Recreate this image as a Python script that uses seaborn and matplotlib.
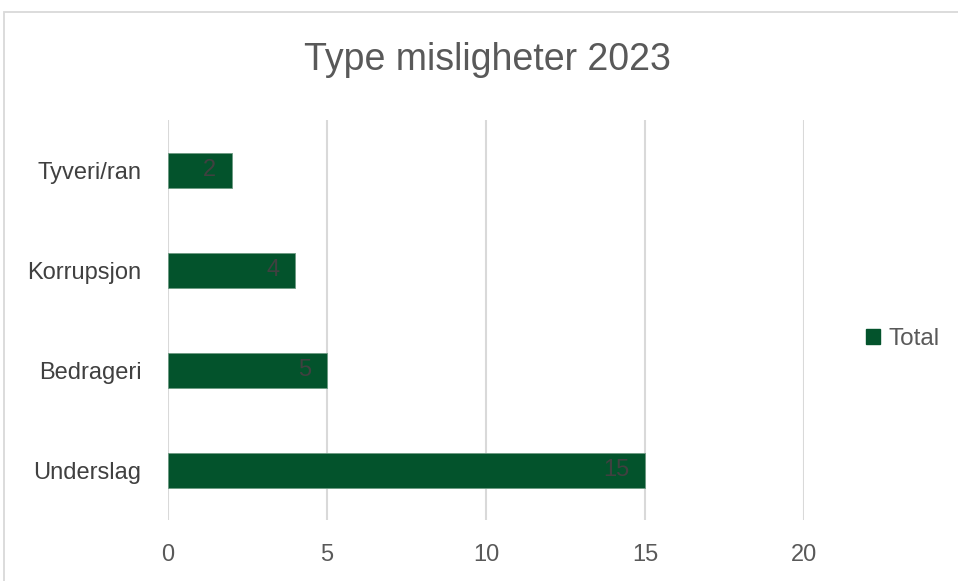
import matplotlib
matplotlib.use("Agg")
import matplotlib.pyplot as plt
from matplotlib.patches import Rectangle, Patch
import seaborn as sns
import pandas as pd

categories = ["Tyveri/ran", "Korrupsjon", "Bedrageri", "Underslag"]
values = [2, 4, 5, 15]
x_ticks = [0, 5, 10, 15, 20]
title = "Type misligheter 2023"
series_name = "Total"

bar_color = "#03532C"
text_color = "#595959"
grid_color = "#D9D9D9"

sns.set_theme(style="white")
plt.rcParams["font.family"] = ["Liberation Sans", "DejaVu Sans"]

W, H = 958, 581
fig = plt.figure(figsize=(W / 100, H / 100), dpi=100)
ax = fig.add_axes([168 / W, 1 - 520 / H, 636 / W, 400 / H])

df = pd.DataFrame({"kategori": categories, "antall": values})
sns.barplot(data=df, x="antall", y="kategori", orient="h", color=bar_color,
            width=0.35, saturation=1, edgecolor="#6d9a82", linewidth=0.6,
            ax=ax, zorder=3)

ax.set_xlim(0, 20)
ax.set_ylim(3.5, -0.5)
ax.set_xticks(x_ticks)
ax.set_xticklabels([str(t) for t in x_ticks])
ax.xaxis.grid(True, color=grid_color, linewidth=1.5, zorder=0)
ax.yaxis.grid(False)
for s in ax.spines.values():
    s.set_visible(False)
ax.set_xlabel("")
ax.set_ylabel("")
ax.tick_params(axis="x", length=0, pad=17, labelsize=17, labelcolor=text_color)
ax.tick_params(axis="y", length=0, pad=19, labelsize=17, labelcolor="#404040")

# value labels, right-aligned just inside the end of each bar
for i, v in enumerate(values):
    ax.annotate(str(v), xy=(v, i), xytext=(-11.5, 0), textcoords="offset points",
                ha="right", va="center", color="#404040", fontsize=17, zorder=4)

# chart frame
fig.patches.append(Rectangle((3.5 / W, -0.05), 1.1, 1.05 - 12.5 / H,
                             transform=fig.transFigure, fill=False,
                             edgecolor=grid_color, linewidth=1.3))

fig.text(487 / W, 1 - 60 / H, title, ha="center", va="center",
         fontsize=27, color=text_color)

handle = Patch(facecolor=bar_color, edgecolor=bar_color)
fig.legend([handle], [series_name], loc="center left",
           bbox_to_anchor=(856 / W, 1 - 339 / H), frameon=False,
           fontsize=17.5, labelcolor=text_color, handlelength=0.6,
           handleheight=0.6, handletextpad=0.35, borderaxespad=0)

fig.savefig("out.png", dpi=100)
